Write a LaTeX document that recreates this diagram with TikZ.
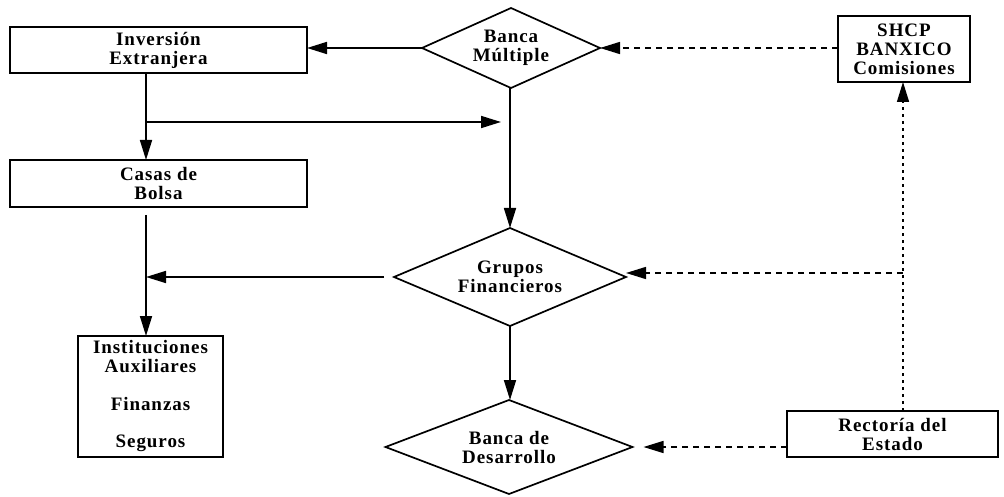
\documentclass[tikz,border=0pt]{standalone}
\usepackage{fontspec}
\setmainfont{Liberation Serif}[LetterSpace=5]
\usetikzlibrary{shapes.geometric,arrows.meta}
\begin{document}
\begin{tikzpicture}[x=1pt,y=-1pt,
  every node/.style={font=\fontsize{19}{19}\selectfont\bfseries, align=center, outer sep=0pt, inner sep=0pt},
  box/.style={draw, line width=1.7pt, rectangle},
  dia/.style={draw, line width=1.7pt, diamond, aspect=2},
  conn/.style={line width=1.7pt, -{Triangle[length=20pt,width=12pt]}},
  dsh/.style={line width=1.5pt, dash pattern=on 6pt off 5pt, -{Triangle[length=20pt,width=12pt]}},
  dot/.style={line width=1.5pt, dash pattern=on 3pt off 4pt, -{Triangle[length=20pt,width=12pt]}}
]
\useasboundingbox[fill=white] (0,0) rectangle (1004,497);
% nodes
\node[box, minimum width=297pt, minimum height=46pt] (inv) at (158.5,50) {Inversión\\Extranjera};
\node[box, minimum width=297pt, minimum height=47pt] (casas) at (158.5,183.5) {Casas de\\Bolsa};
\node[box, minimum width=145pt, minimum height=121pt] (inst) at (150.5,396.5) {Instituciones\\Auxiliares\\[18.5pt]Finanzas\\[18.5pt]Seguros};
\node[dia, minimum width=178pt, minimum height=80pt] (bm) at (511,48) {Banca\\Múltiple};
\node[dia, minimum width=232pt, minimum height=98pt] (gf) at (510,277) {Grupos\\Financieros};
\node[dia, minimum width=247pt, minimum height=94pt] (bd) at (509,447) {Banca de\\Desarrollo};
\node[box, minimum width=132pt, minimum height=66pt] (shcp) at (904,49) {SHCP\\BANXICO\\Comisiones};
\node[box, minimum width=211pt, minimum height=46pt] (rect) at (892.5,434) {Rectoría del\\Estado};
% helper coordinates
\coordinate (c1) at (146,122);
\coordinate (c2) at (903,273);
% solid connectors
\draw[conn] (bm.west) -- (bm.west -| inv.east);
\draw[conn] (inv.south -| c1) -- (casas.north -| c1);
\draw[conn, shorten >=10pt] (c1) -- (c1 -| bm.south);
\draw[conn] (bm.south -| gf.north) -- (gf.north);
\draw[conn, shorten <=8pt] (casas.south -| c1) -- (inst.north -| c1);
\draw[conn, shorten <=10pt] (gf.west) -- (gf.west -| c1);
\draw[conn] (gf.south) -- (gf.south |- bd.north);
% dashed connectors
\draw[dsh] (shcp.west |- bm.east) -- (bm.east);
\draw[dot] (rect.north -| c2) -- (shcp.south -| c2);
\draw[dsh] (c2) -- (c2 -| gf.east);
\draw[dsh, shorten >=11pt] (rect.west |- bd.east) -- (bd.east);
\end{tikzpicture}
\end{document}
